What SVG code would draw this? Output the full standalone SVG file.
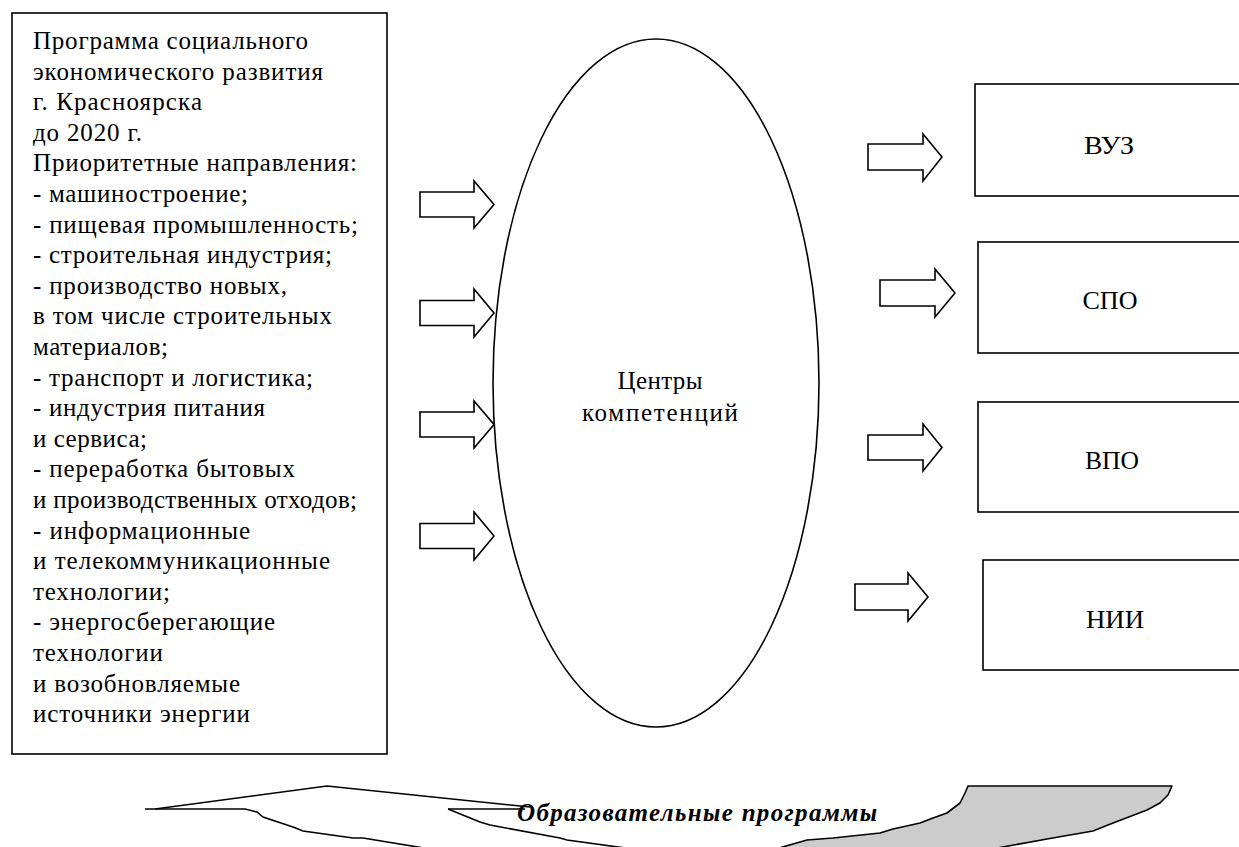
<svg xmlns="http://www.w3.org/2000/svg" width="1239" height="847" viewBox="0 0 1239 847">
<style>
.box{fill:#fff;stroke:#000;stroke-width:1.6}
.arr{fill:#fff;stroke:#000;stroke-width:1.6;stroke-linejoin:miter}
.t{font-family:"Liberation Serif","Times New Roman",serif;font-size:25px;fill:#000}
.c{text-anchor:middle}
.ln{fill:none;stroke:#000;stroke-width:1.6}
.bi{font-family:"Liberation Serif","Times New Roman",serif;font-size:25px;font-weight:bold;font-style:italic;fill:#000}
</style>
<rect width="1239" height="847" fill="#fff"/>
<g id="program">
<rect class="box" x="12" y="13" width="375" height="741"/>
<text class="t" lengthAdjust="spacing">
<tspan x="33" y="49" textLength="275">Программа социального</tspan>
<tspan x="33" y="79.6" textLength="290">экономического развития</tspan>
<tspan x="33" y="110.2" textLength="169">г. Красноярска</tspan>
<tspan x="33" y="140.8" textLength="109">до 2020 г.</tspan>
<tspan x="33" y="171.4" textLength="324">Приоритетные направления:</tspan>
<tspan x="33" y="202" textLength="215">- машиностроение;</tspan>
<tspan x="33" y="232.6" textLength="325">- пищевая промышленность;</tspan>
<tspan x="33" y="263.2" textLength="299">- строительная индустрия;</tspan>
<tspan x="33" y="293.8" textLength="254">- производство новых,</tspan>
<tspan x="33" y="324.4" textLength="299">в том числе строительных</tspan>
<tspan x="33" y="355" textLength="135">материалов;</tspan>
<tspan x="33" y="385.6" textLength="280">- транспорт и логистика;</tspan>
<tspan x="33" y="416.2" textLength="232">- индустрия питания</tspan>
<tspan x="33" y="446.8" textLength="114">и сервиса;</tspan>
<tspan x="33" y="477.4" textLength="262">- переработка бытовых</tspan>
<tspan x="33" y="508" textLength="324">и производственных отходов;</tspan>
<tspan x="33" y="538.6" textLength="217">- информационные</tspan>
<tspan x="33" y="569.2" textLength="297">и телекоммуникационные</tspan>
<tspan x="33" y="599.8" textLength="137">технологии;</tspan>
<tspan x="33" y="630.4" textLength="242">- энергосберегающие</tspan>
<tspan x="33" y="661" textLength="130">технологии</tspan>
<tspan x="33" y="691.6" textLength="207">и возобновляемые</tspan>
<tspan x="33" y="722.2" textLength="217">источники энергии</tspan>
</text>
</g>
<g id="centers">
<ellipse class="box" cx="656" cy="383" rx="163" ry="344"/>
<text class="t c" x="660" y="389" textLength="85" lengthAdjust="spacing">Центры</text>
<text class="t c" x="660" y="421" textLength="156" lengthAdjust="spacing">компетенций</text>
</g>
<g id="vuz">
<rect class="box" x="975" y="84" width="300" height="112"/>
<text class="t c" x="1109" y="154" textLength="50" lengthAdjust="spacingAndGlyphs">ВУЗ</text>
</g>
<g id="spo">
<rect class="box" x="978" y="242" width="300" height="111"/>
<text class="t c" x="1110" y="309" textLength="55" lengthAdjust="spacingAndGlyphs">СПО</text>
</g>
<g id="vpo">
<rect class="box" x="978" y="402" width="300" height="110"/>
<text class="t c" x="1112" y="469" textLength="54" lengthAdjust="spacingAndGlyphs">ВПО</text>
</g>
<g id="nii">
<rect class="box" x="983" y="560" width="300" height="110"/>
<text class="t c" x="1115" y="628" textLength="58" lengthAdjust="spacingAndGlyphs">НИИ</text>
</g>
<g id="connectors">
<polygon class="arr" points="420,192 474,192 474,181 494,204.5 474,228 474,217 420,217"/>
<polygon class="arr" points="420,300.5 474,300.5 474,289 494,313 474,337 474,325.5 420,325.5"/>
<polygon class="arr" points="420,412 474,412 474,401 494,424.5 474,448 474,437 420,437"/>
<polygon class="arr" points="420,523.5 474,523.5 474,512 494,536 474,560 474,548.5 420,548.5"/>
<polygon class="arr" points="868,144 923,144 923,134 942,157 923,181 923,170 868,170"/>
<polygon class="arr" points="880,280 935,280 935,269 955,293 935,317 935,306 880,306"/>
<polygon class="arr" points="868,435 923,435 923,424 942,447.5 923,471 923,460 868,460"/>
<polygon class="arr" points="855,584 908,584 908,573 928,597 908,621 908,610 855,610"/>
</g>
<g id="edu-programs">
<path d="M968,786 H1172 L1168,795 L1160,803 L1147,810 L1113,823 L1093,831 L1047,839 L975,852 L765,852 L807,840 L833,838 L880,833 L893,829 L920,823 L933,818 L947,813 L960,803 L965,793 Z" fill="#cccccc" stroke="#000" stroke-width="1.6" stroke-linejoin="round"/>
<path class="ln" d="M145,809 H245 L257,812 L263,817 L293,827 L303,831 L353,838 L363,838 L430,849"/>
<path class="ln" d="M155,809 L327,786 L530,807"/>
<path class="ln" d="M448,809 H525"/>
<path class="ln" d="M448,809 L480,822 L490,825 L560,838 L567,840 L640,850"/>
<text class="bi" x="517" y="821" textLength="360" lengthAdjust="spacing">Образовательные программы</text>
</g>
</svg>
